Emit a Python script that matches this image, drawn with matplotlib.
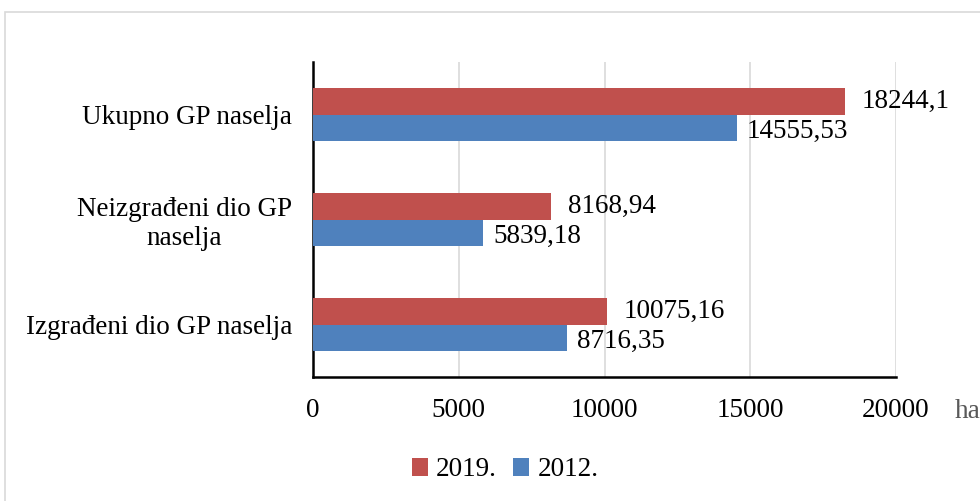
import numpy as np
import matplotlib
matplotlib.use("Agg")
import matplotlib.pyplot as plt
from matplotlib.patches import Rectangle

# Data
categories = ["Izgrađeni dio GP naselja", "Neizgrađeni dio GP\nnaselja", "Ukupno GP naselja"]
val_2019 = [10075.16, 8168.94, 18244.1]
val_2012 = [8716.35, 5839.18, 14555.53]
lbl_2019 = ["10075,16", "8168,94", "18244,1"]
lbl_2012 = ["8716,35", "5839,18", "14555,53"]
xticks = [0, 5000, 10000, 15000, 20000]

red = "#C0504D"
blue = "#4F81BD"

plt.rcParams['font.family'] = ['Liberation Serif', 'DejaVu Serif']
fs = 19.5

fig = plt.figure(figsize=(9.8, 5.01), dpi=100)
ax = fig.add_axes([313/980, 1-377/501, (896-313)/980, (377-62)/501])

# outer chart border (cut off on right and bottom)
fig.patches.append(Rectangle((5/980, -0.1), 1.2, 1.1 - 12/501, transform=fig.transFigure,
                             fill=False, edgecolor="#d9d9d9", linewidth=1.2))

y = np.arange(len(categories))
h = 0.25
ax.barh(y + h/2, val_2019, height=h, color=red, label="2019.", zorder=3)
ax.barh(y - h/2, val_2012, height=h, color=blue, label="2012.", zorder=3)

for i in range(len(categories)):
    ax.annotate(lbl_2019[i], (val_2019[i], y[i] + h/2), xytext=(12, 0), textcoords="offset points",
                va="center", ha="left", fontsize=fs)
    ax.annotate(lbl_2012[i], (val_2012[i], y[i] - h/2), xytext=(7, -3), textcoords="offset points",
                va="center", ha="left", fontsize=fs)

ax.set_xlim(0, 20000)
ax.set_ylim(-0.5, 2.5)
ax.set_xticks(xticks)
ax.set_xticklabels([str(t) for t in xticks], fontsize=fs)
ax.set_yticks(y)
ax.set_yticklabels(categories, fontsize=fs, multialignment="center")
ax.tick_params(axis="both", length=0)
ax.tick_params(axis="x", pad=15)
ax.tick_params(axis="y", pad=15)
ax.grid(axis="x", color="#d9d9d9", linewidth=1.2, zorder=0)
for s in ["top", "right"]:
    ax.spines[s].set_visible(False)
for s in ["left", "bottom"]:
    ax.spines[s].set_color("black")
    ax.spines[s].set_linewidth(1.8)

fig.text(955/980, 1-411/501, "ha", fontsize=fs, color="#595959", ha="left", va="center")

fig.legend(loc="center", bbox_to_anchor=(505/980, 1-470/501), ncol=2, frameon=False,
           fontsize=fs, handlelength=0.6, handleheight=0.6, handletextpad=0.3, columnspacing=0.6)

fig.savefig("out.png", dpi=100)
